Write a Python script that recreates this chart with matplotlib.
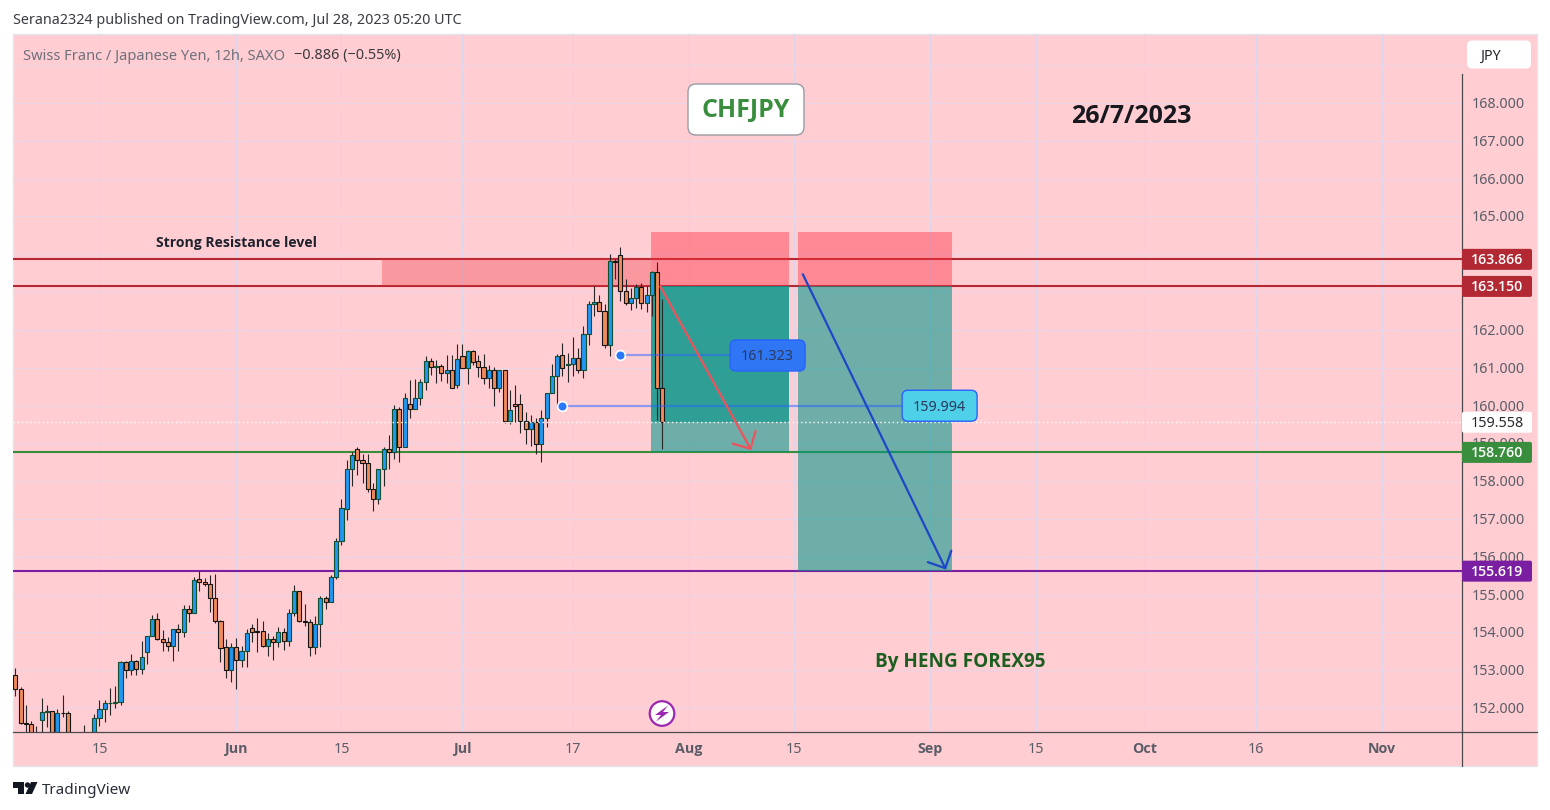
import matplotlib
matplotlib.use("Agg")
import matplotlib.pyplot as plt
from matplotlib.lines import Line2D
from matplotlib.patches import FancyBboxPatch, Circle, Polygon, Rectangle
from matplotlib.transforms import Affine2D

plt.rcParams['font.family'] = ['Noto Sans', 'DejaVu Sans']
BOLD = ['Open Sans', 'DejaVu Sans']

# ---------- data ----------
opens = [152.87,152.50,151.60,151.58,151.00,151.67,151.89,151.92,151.20,151.87,
         151.87,151.20,150.90,150.80,151.00,151.30,151.74,151.97,152.13,152.13,
         152.15,153.22,153.01,153.23,153.03,153.48,153.90,154.35,153.83,153.75,
         153.63,154.09,154.01,154.62,154.51,155.41,155.33,155.28,154.91,154.30,
         153.61,153.01,153.61,153.27,153.51,154.12,154.03,154.03,153.64,153.83,
         153.75,154.00,153.77,154.51,155.09,154.30,154.27,153.61,154.21,154.91,
         154.80,155.47,156.42,157.27,158.31,158.84,158.57,158.49,157.80,157.54,
         158.31,158.86,158.78,159.92,158.89,160.03,159.92,160.21,160.61,161.19,
         161.01,161.05,160.85,160.95,160.55,161.32,160.98,161.43,161.19,161.03,
         160.74,160.93,160.45,160.93,159.60,160.03,160.03,159.60,159.39,159.57,
         158.99,159.66,160.34,160.77,161.33,161.06,161.11,161.25,160.93,161.89,
         162.68,162.73,162.50,161.61,163.82,163.98,163.02,162.71,162.84,163.13,
         162.71,162.92,163.53,160.46]
highs = [153.06,152.56,152.09,151.66,151.53,152.26,152.09,151.93,151.96,152.35,
         151.92,151.30,151.10,151.56,151.30,151.85,152.22,152.22,152.53,152.59,
         153.23,153.25,153.44,153.28,153.77,153.91,154.47,154.52,154.05,153.87,
         154.10,154.23,154.72,154.72,155.46,155.61,155.44,155.53,155.55,154.32,
         153.83,153.72,153.85,153.63,154.10,154.23,154.38,154.31,153.98,153.91,
         154.14,154.12,154.62,155.26,155.09,154.76,154.36,154.44,154.95,154.95,
         155.52,156.50,157.52,158.55,158.77,158.90,158.71,158.71,157.94,158.31,
         158.89,159.22,160.01,159.96,160.32,160.67,160.70,160.70,161.31,161.25,
         161.20,161.10,161.33,161.33,161.64,161.62,161.48,161.48,161.33,161.36,
         161.07,161.01,160.95,160.93,160.42,160.54,160.30,159.83,159.74,159.66,
         159.89,160.34,161.10,161.36,161.65,161.38,161.81,161.52,162.09,162.77,
         163.15,162.93,162.69,164.01,163.87,164.19,163.34,163.10,163.22,163.24,
         163.15,163.55,163.80,162.81]
lows = [152.31,151.57,151.20,151.10,150.90,151.30,151.49,151.10,151.00,151.75,
        151.00,150.80,150.60,150.70,150.90,151.20,151.53,151.64,151.81,151.99,
        152.07,152.78,152.88,152.86,152.91,153.17,153.90,153.80,153.52,153.50,
        153.25,153.52,153.88,154.28,154.51,155.09,155.22,154.53,154.25,153.21,
        152.78,152.70,152.50,153.08,153.08,153.74,153.47,153.60,153.38,153.28,
        153.62,153.54,153.63,154.43,154.27,154.16,153.38,153.44,153.62,154.63,
        154.80,155.40,156.30,156.98,157.87,158.16,157.95,157.72,157.21,157.40,
        157.87,158.32,158.58,158.51,158.89,159.66,159.92,160.01,160.41,160.81,
        160.60,160.65,160.60,160.47,160.47,160.98,160.56,161.06,160.76,160.58,
        160.47,159.99,160.36,159.54,159.52,159.57,159.28,158.98,158.93,158.72,
        158.51,159.43,160.34,160.01,160.77,160.61,160.77,160.87,160.72,161.59,
        162.37,162.50,161.52,161.31,163.34,162.77,162.66,162.53,162.57,162.56,
        162.47,162.37,159.62,158.86]
closes = [152.50,151.60,151.58,151.20,151.20,151.89,151.92,151.20,151.87,151.86,
          151.20,150.90,150.80,151.10,151.20,151.74,151.97,152.13,152.14,152.15,
          153.22,153.01,153.23,153.03,153.35,153.90,154.35,153.83,153.75,153.63,
          154.09,154.01,154.62,154.51,155.39,155.33,155.28,154.91,154.30,153.59,
          153.01,153.61,153.27,153.51,153.98,154.01,154.02,153.64,153.83,153.75,
          154.00,153.77,154.51,155.09,154.30,154.27,153.61,154.21,154.91,154.80,
          155.47,156.42,157.28,158.31,158.68,158.57,158.49,157.80,157.54,158.31,
          158.86,158.78,159.92,158.89,160.21,159.92,160.21,160.61,161.19,161.01,
          161.05,160.85,160.95,160.47,161.22,160.98,161.43,161.16,161.03,160.74,
          160.93,160.45,160.93,159.60,159.87,160.00,159.60,159.39,159.57,158.99,
          159.66,160.34,160.77,161.32,161.00,161.11,161.25,160.93,161.89,162.68,
          162.73,162.51,161.61,163.82,163.79,163.02,162.71,162.84,163.13,162.71,
          162.92,163.53,160.46,159.56]

grid_levels = list(range(152, 170))
price_labels = [v for v in grid_levels if v not in (163, 169)]
x_tick_bars = [16, 42, 62, 85, 106, 128, 148, 173.8, 194, 214.7, 235.8, 259.7]
x_tick_labels = ['15', 'Jun', '15', 'Jul', '17', 'Aug', '15', 'Sep', '15', 'Oct', '16', 'Nov']
month_labels = ['Jun', 'Jul', 'Aug', 'Sep', 'Oct', 'Nov']

resistance_top, resistance_bottom, support, deep_support = 163.866, 163.150, 158.760, 155.619
last_close = 159.558
stop_level = 164.59
zone_bars = (69.7, 120.8)
short1_bars = (120.8, 147.1)
short2_bars = (148.8, 178.1)
arrow1 = ((122.6, 163.15), (139.9, 158.82))
arrow2 = ((149.7, 163.47), (176.9, 155.66))
note1 = (115, 161.323, 135.7, 143)
note2 = (104, 159.994, 168.6, 175.7)

# ---------- layout ----------
W, H = 1550, 810
fig = plt.figure(figsize=(W / 100, H / 100), dpi=100, facecolor='white')
PX = Affine2D().scale(1 / W, -1 / H).translate(0, 1) + fig.transFigure

PINK = '#FFCDD2'
fig.add_artist(Rectangle((13, 34), 1524, 732, transform=PX, fc=PINK, ec='#E3E5EC', lw=1, zorder=-5))

L, R, T, B = 13, 1462, 34, 731.5
ax = fig.add_axes([L / W, 1 - B / H, (R - L) / W, (B - T) / H])
ax.patch.set_alpha(0)
for s in ax.spines.values():
    s.set_visible(False)
ax.set_xlim(-0.44, 275.0)
ax.set_ylim(151.378, 169.826)

ax.set_yticks(grid_levels)
ax.set_yticklabels([])
ax.set_xticks(x_tick_bars)
ax.set_xticklabels(x_tick_labels, color='#5A5D68', fontsize=10.3)
for t in ax.get_xticklabels():
    if t.get_text() in month_labels:
        t.set_fontweight('bold')
        t.set_family(BOLD)
ax.tick_params(axis='both', length=0)
ax.tick_params(axis='x', pad=7.5)
ax.grid(True, axis='y', color='#EAD4E6', lw=0.8, zorder=0)
ax.grid(True, axis='x', color='#DCD6EC', lw=0.8, zorder=0)
ax.set_axisbelow(True)


def to_px(b, p):
    x, y = ax.transData.transform((b, p))
    return x, H - y


# price scale labels
for v in price_labels:
    fig.text(1472 / W, 1 - (to_px(0, v)[1] - 0.5) / H, '%d.000' % v, color='#5A5D68', fontsize=10.3,
             ha='left', va='center_baseline', zorder=2)

# ---------- level lines (under the translucent boxes) ----------
ax.axhline(resistance_top, color='#B22833', lw=1.5, zorder=1)
ax.axhline(resistance_bottom, color='#B22833', lw=1.5, zorder=1)
ax.axhline(support, color='#388E3C', lw=1.5, zorder=1)
ax.axhline(deep_support, color='#7B1FA2', lw=1.5, zorder=1)

# ---------- zones ----------
RED_FILL = (1.0, 0.196, 0.275, 0.44)
TEAL = (0.0, 0.588, 0.533, 0.57)
ax.add_patch(Rectangle((zone_bars[0], resistance_bottom), zone_bars[1] - zone_bars[0],
                       resistance_top - resistance_bottom, fc=(0.95, 0.21, 0.27, 0.35), ec='none', zorder=2))
for b0, b1, low in [(short1_bars[0], short1_bars[1], support), (short2_bars[0], short2_bars[1], deep_support)]:
    ax.add_patch(Rectangle((b0, resistance_bottom), b1 - b0, stop_level - resistance_bottom,
                           fc=RED_FILL, ec='none', zorder=2))
    ax.add_patch(Rectangle((b0, low), b1 - b0, resistance_bottom - low, fc=TEAL, ec='none', zorder=2))
ax.add_patch(Rectangle((short1_bars[0], last_close), short1_bars[1] - short1_bars[0],
                       resistance_bottom - last_close, fc=TEAL, ec='none', zorder=2))

# ---------- candles ----------
idx = list(range(len(closes)))
UP_FILL, UP_EDGE = '#2196F3', '#124F2E'
DN_FILL, DN_EDGE = '#F08A5A', '#141414'
ax.vlines(idx, lows, highs, color='#262626', lw=0.8, zorder=3)
bot = [min(o, c) for o, c in zip(opens, closes)]
hgt = [abs(o - c) for o, c in zip(opens, closes)]
fills = [UP_FILL if c >= o else DN_FILL for o, c in zip(opens, closes)]
edges = [UP_EDGE if c >= o else DN_EDGE for o, c in zip(opens, closes)]
ax.bar(idx, hgt, bottom=bot, width=0.78, color=fills, edgecolor=edges, linewidth=0.8, zorder=4)

# last price dotted line
ax.axhline(last_close, color='white', lw=1.0, ls=(0, (1, 2)), zorder=5)

# ---------- arrows ----------
for (p0, p1), col in [(arrow1, '#F0525C'), (arrow2, '#1E47C8')]:
    ax.annotate('', xy=p1, xytext=p0, zorder=6,
                arrowprops=dict(arrowstyle='->,head_length=0.94,head_width=0.94', color=col, lw=1.6,
                                shrinkA=0, shrinkB=0, mutation_scale=10))


def tag(xl, xr, yc, h, fc, text, tc, ec='none', r=3, fs=10.3, bold=False, z=10, text_x=None):
    fig.add_artist(FancyBboxPatch((xl + r, yc - h / 2 + r), xr - xl - 2 * r, h - 2 * r,
                                  boxstyle='round,pad=%g,rounding_size=%g' % (r, r),
                                  transform=PX, fc=fc, ec=ec, lw=1, zorder=z))
    tx = (xl + xr) / 2 if text_x is None else text_x
    fig.text(tx / W, 1 - (yc - 0.5) / H, text, ha='center', va='center_baseline', color=tc,
             fontsize=fs, zorder=z + 1, **(dict(family=BOLD, fontweight='semibold') if bold else {}))


# ---------- notes with leader lines ----------
for (b0, price, b1, bc), fc, ec in [(note1, '#2F76F5', '#2962FF'), (note2, '#4DD0E8', '#2962FF')]:
    ax.plot([b0, b1], [price, price], color='#2962FF', alpha=0.5, lw=1.6, zorder=5)
    ax.plot([b0], [price], marker='o', ms=7, mfc='#2979FF', mec='white', mew=1.2, zorder=6)
    xc, yc = to_px(bc, price)
    tag(xc - 37.5, xc + 37.5, yc, 31, fc, '%.3f' % price, '#2A3A5E', ec=ec, r=6)

# ---------- axis lines ----------
fig.add_artist(Line2D([13, 1537], [731.5, 731.5], transform=PX, color='#4A4A4E', lw=0.9, zorder=7))
fig.add_artist(Line2D([1462, 1462], [74, 766], transform=PX, color='#4A4A4E', lw=0.9, zorder=7))

# ---------- price tags ----------
for price, fc in [(resistance_top, '#B22833'), (resistance_bottom, '#B22833'),
                  (support, '#388E3C'), (deep_support, '#7B1FA2')]:
    tag(1462, 1532, to_px(0, price)[1], 21, fc, '%.3f' % price, 'white', r=2, bold=True, fs=10.2)
tag(1462, 1532, to_px(0, last_close)[1], 21, 'white', '%.3f' % last_close, '#26282E', r=2)

# ---------- captions ----------
fig.text(13 / W, 1 - 19 / H, 'Serana2324 published on TradingView.com, Jul 28, 2023 05:20 UTC',
         fontsize=10.35, color='#3A3C44', va='center_baseline')
fig.text(23 / W, 1 - 54 / H, 'Swiss Franc / Japanese Yen, 12h, SAXO', fontsize=10.55, color='#6E717C',
         va='center_baseline')
fig.text(294 / W, 1 - 54 / H, '\u22120.886 (\u22120.55%)', fontsize=10.4, color='#3A3A3E', va='center_baseline')
tag(1467, 1531, 54.5, 28, 'white', 'JPY', '#26282E', r=5, fs=10.3, text_x=1490)

fig.add_artist(FancyBboxPatch((696, 92), 100, 35, boxstyle='round,pad=8,rounding_size=8', transform=PX,
                              fc='white', ec='#9A9BA3', lw=1, zorder=9))
fig.text(746 / W, 1 - 107.5 / H, 'CHFJPY', fontsize=18, fontweight='bold', family=BOLD, color='#388E3C',
         ha='center', va='center_baseline', zorder=10)
fig.text(1131 / W, 1 - 113.5 / H, '26/7/2023', fontsize=18, fontweight='bold', family=BOLD, color='#16181E',
         ha='center', va='center_baseline', zorder=10)
fig.text(236 / W, 1 - 242 / H, 'Strong Resistance level', fontsize=10.1, fontweight='bold', family=BOLD,
         color='#1E222D', ha='center', va='center_baseline', zorder=10)
fig.text(960.5 / W, 1 - 659.5 / H, 'By HENG FOREX95', fontsize=13.6, fontweight='bold', family=BOLD,
         color='#1B5E20', ha='center', va='center_baseline', zorder=10)

# lightning badge
fig.add_artist(Circle((662, 713.5), 12.3, transform=PX, fc='white', ec='#9C27B0', lw=1.6, zorder=9))
fig.add_artist(Polygon([(668, 705.5), (655, 715), (661, 715), (656, 721.5), (669, 712), (663, 712)],
                       closed=True, transform=PX, fc='#9C27B0', ec='none', zorder=10))

# TradingView logo
LOGO = '#131722'
fig.add_artist(Polygon([(13, 782), (24, 782), (24, 794), (18, 794), (18, 788), (13, 788)],
                       closed=True, transform=PX, fc=LOGO, ec='none'))
fig.add_artist(Circle((27.5, 785), 2.7, transform=PX, fc=LOGO, ec='none'))
fig.add_artist(Polygon([(31, 782), (37.5, 782), (32, 794), (25.5, 794)],
                       closed=True, transform=PX, fc=LOGO, ec='none'))
fig.text(42 / W, 1 - 788.5 / H, 'TradingView', fontsize=11, color='#2A2E39', va='center_baseline')

fig.savefig('out.png', dpi=100, facecolor='white')
